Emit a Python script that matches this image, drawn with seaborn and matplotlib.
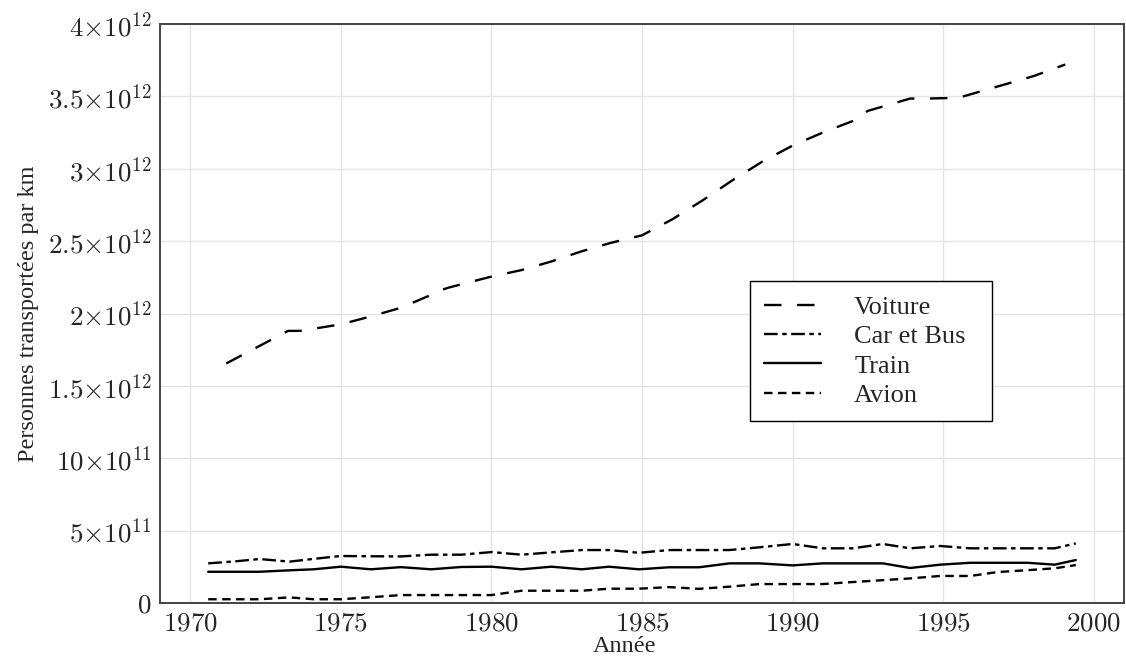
import matplotlib

matplotlib.use("Agg")
import matplotlib.pyplot as plt
import pandas as pd
import seaborn as sns

# x positions of the data points
years = [1970.6, 1971.5, 1972.3, 1973.3, 1974.1, 1975.0, 1976.0, 1977.0, 1978.0, 1979.0,
         1980.0, 1981.0, 1982.0, 1983.0, 1983.9, 1984.9, 1985.9, 1986.9, 1987.9, 1988.9,
         1990.0, 1991.0, 1992.0, 1993.0, 1993.9, 1994.9, 1995.9, 1996.8, 1997.8, 1998.7,
         1999.4]

# values in units of 1e11 passenger-km
car_bus = [2.74, 2.88, 3.04, 2.86, 3.05, 3.25, 3.23, 3.22, 3.34, 3.34,
           3.52, 3.34, 3.50, 3.66, 3.66, 3.47, 3.66, 3.66, 3.66, 3.85,
           4.08, 3.78, 3.78, 4.08, 3.78, 3.94, 3.78, 3.78, 3.78, 3.78,
           4.12]
train = [2.16, 2.16, 2.16, 2.26, 2.33, 2.51, 2.33, 2.48, 2.33, 2.49,
         2.51, 2.33, 2.51, 2.33, 2.51, 2.33, 2.47, 2.47, 2.74, 2.74,
         2.60, 2.74, 2.74, 2.74, 2.42, 2.65, 2.78, 2.78, 2.78, 2.65,
         2.97]
avion = [0.26, 0.26, 0.26, 0.39, 0.26, 0.26, 0.40, 0.55, 0.55, 0.55,
         0.55, 0.85, 0.85, 0.85, 0.99, 0.99, 1.10, 0.98, 1.13, 1.31,
         1.31, 1.31, 1.45, 1.58, 1.70, 1.87, 1.87, 2.14, 2.27, 2.40,
         2.62]

# Voiture has its own x range, values in units of 1e12
voiture_years = [1971.2, 1973.25, 1973.65, 1975.0, 1976.0, 1977.0, 1977.9, 1978.3, 1978.6,
                 1980.0, 1981.0, 1982.0, 1983.0, 1984.0, 1985.0, 1986.0, 1987.0, 1988.0,
                 1989.0, 1990.0, 1991.0, 1992.0, 1992.5, 1993.0, 1993.9, 1994.5, 1995.5,
                 1996.0, 1997.0, 1998.0, 1999.05]
voiture = [1.655, 1.88, 1.88, 1.925, 1.98, 2.04, 2.12, 2.16, 2.18,
           2.255, 2.30, 2.36, 2.43, 2.49, 2.54, 2.65, 2.78, 2.92,
           3.05, 3.16, 3.25, 3.33, 3.40, 3.43, 3.485, 3.485, 3.49,
           3.52, 3.58, 3.64, 3.72]

x_ticks = [1970, 1975, 1980, 1985, 1990, 1995, 2000]
y_ticks = [0, 5e11, 10e11, 1.5e12, 2e12, 2.5e12, 3e12, 3.5e12, 4e12]
y_tick_labels = ["$0$", r"$5{\times}10^{11}$", r"$10{\times}10^{11}$", r"$1.5{\times}10^{12}$",
                 r"$2{\times}10^{12}$", r"$2.5{\times}10^{12}$", r"$3{\times}10^{12}$",
                 r"$3.5{\times}10^{12}$", r"$4{\times}10^{12}$"]


def main() -> None:
    sns.set_theme(style="whitegrid")
    plt.rcParams["font.family"] = ["Liberation Serif", "DejaVu Serif"]
    plt.rcParams["mathtext.fontset"] = "cm"

    low = pd.DataFrame({"year": years, "car_bus": car_bus, "train": train, "avion": avion})
    low[["car_bus", "train", "avion"]] *= 1e11
    car = pd.DataFrame({"year": voiture_years, "voiture": [v * 1e12 for v in voiture]})

    fig = plt.figure(figsize=(11.26, 6.61), dpi=100)
    ax = fig.add_axes([0.1421, 0.0877, 0.8561, 0.876])

    lw = 1.7
    sns.lineplot(data=car, x="year", y="voiture", ax=ax, color="black", lw=lw,
                 linestyle=(0, (7.4, 6.6)), label="Voiture")
    sns.lineplot(data=low, x="year", y="car_bus", ax=ax, color="black", lw=lw,
                 linestyle=(0, (5.8, 1.9, 1.9, 1.9)), label="Car et Bus")
    sns.lineplot(data=low, x="year", y="train", ax=ax, color="black", lw=lw,
                 linestyle="-", label="Train")
    sns.lineplot(data=low, x="year", y="avion", ax=ax, color="black", lw=lw,
                 linestyle=(0, (3.6, 2.3)), label="Avion")

    ax.set_xlim(1969.0, 2001.0)
    ax.set_ylim(0, 4e12)
    ax.set_xticks(x_ticks)
    ax.set_xticklabels([f"${y}$" for y in x_ticks])
    ax.set_yticks(y_ticks)
    ax.set_yticklabels(y_tick_labels)
    ax.tick_params(axis="both", labelsize=19.5, length=0, pad=6)
    ax.grid(True, color="#e4e4e4", lw=1.0)
    for s in ax.spines.values():
        s.set_color("#444444")
        s.set_linewidth(1.4)

    ax.set_xlabel("Année", fontsize=17.5)
    ax.xaxis.set_label_coords(0.482, -0.057)
    ax.set_ylabel("Personnes transportées par km", fontsize=17.5, labelpad=6)

    leg = ax.legend(loc="upper left", bbox_to_anchor=(0.612, 0.556, 0.251, 0.0),
                    mode="expand", borderaxespad=0,
                    fontsize=19, frameon=True, fancybox=False, edgecolor="black",
                    handlelength=2.15, handletextpad=1.25, labelspacing=0.22,
                    borderpad=0.55)
    leg.get_frame().set_linewidth(1.0)
    leg.get_frame().set_alpha(1.0)

    fig.savefig("out.png", dpi=100)
    plt.close(fig)


if __name__ == "__main__":
    main()
